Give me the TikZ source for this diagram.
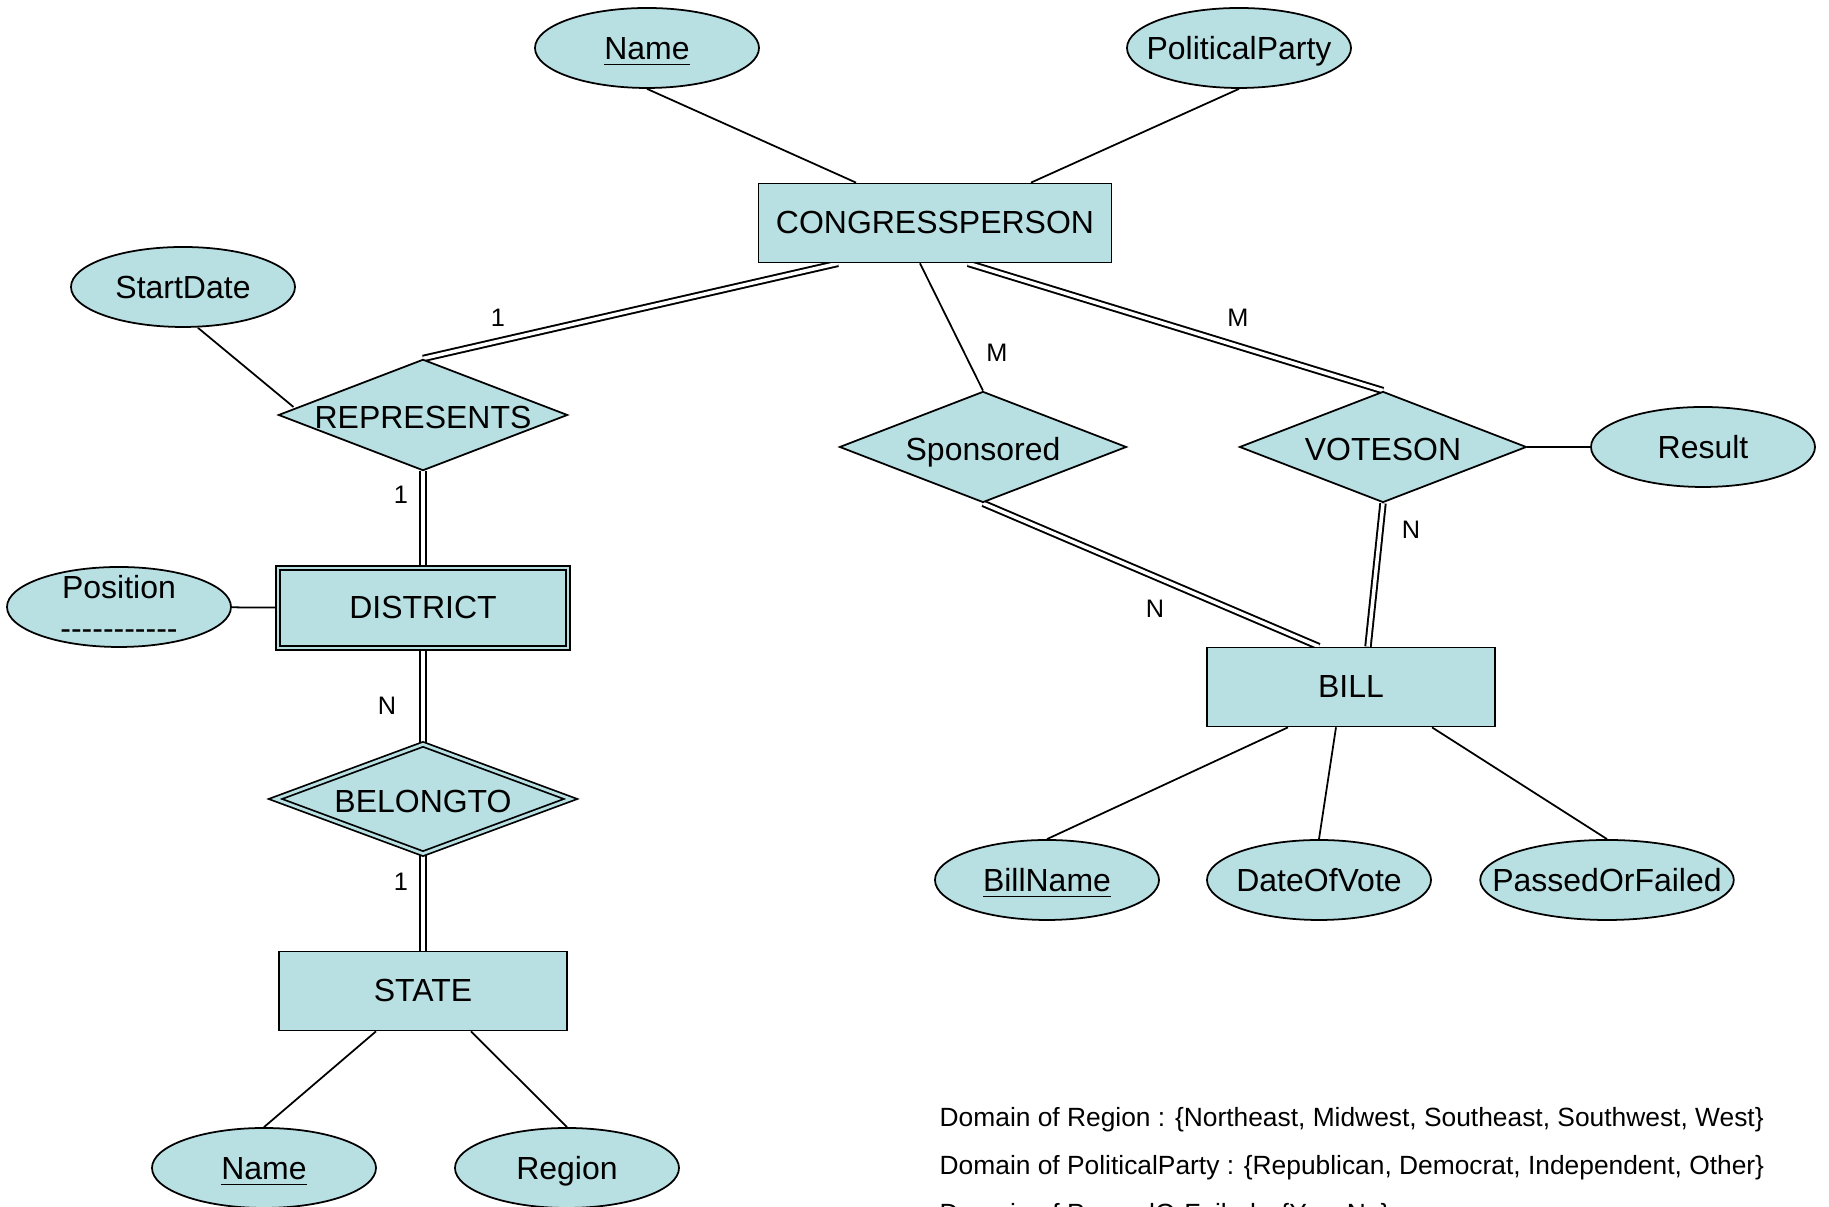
\documentclass[tikz,border=0pt]{standalone}
\usepackage{fontspec}
\setmainfont{Liberation Sans}
\usetikzlibrary{shapes.geometric,backgrounds}

\definecolor{erfill}{RGB}{184,223,226}

\begin{document}
\begin{tikzpicture}[font=\fontsize{9.1}{11.7}\selectfont,
 ent/.style={draw,fill=erfill,line width=.5pt,minimum width=2.88cm,minimum height=.79cm,inner sep=0pt},
 rel/.style={diamond,draw,fill=erfill,line width=.5pt,aspect=2.6,minimum width=2.87cm,minimum height=1.11cm,
   inner sep=0pt,text height=1.5ex,text depth=0pt},
 attr/.style={ellipse,draw,fill=erfill,line width=.5pt,minimum width=2.24cm,minimum height=.8cm,
   inner xsep=-.25cm,inner ysep=-.1cm,text height=1.4ex,text depth=.2ex},
 weak/.style={double=erfill,double distance=.8pt},
 dbl/.style={double,double distance=1pt,line width=.55pt},
 lnk/.style={line width=.5pt},
 card/.style={font=\fontsize{7.2}{8}\selectfont},
 dom/.style={anchor=west,inner sep=0pt,font=\fontsize{7.5}{9}\selectfont}]

\useasboundingbox (0,0) rectangle (18.29,12.07);
% \draw[help lines] (0,0) grid (18,12);

\node[ent,minimum width=3.53cm] (cp) at (9.35,9.84) {CONGRESSPERSON};
\node[attr] (name) at (6.47,11.59) {\underline{Name}};
\node[attr] (party) at (12.39,11.59) {PoliticalParty};

\node[rel] (rep) at (4.23,7.92) {REPRESENTS};
\node[attr] (start) at (1.83,9.20) {StartDate};
\node[rel] (spons) at (9.83,7.60) {Sponsored};
\node[rel] (vote) at (13.83,7.60) {VOTESON};
\node[attr] (result) at (17.03,7.60) {Result};

\node[ent,weak,minimum width=2.90cm,minimum height=.80cm] (dist) at (4.23,5.99) {DISTRICT};
\node[attr,align=center,text height=,text depth=] (pos) at (1.19,6.00) {Position\\-{}-{}-{}-{}-{}-{}-{}-{}-{}-{}-};
\node[rel,weak,minimum width=2.96cm,minimum height=1.10cm] (belong) at (4.23,4.08) {BELONGTO};
\node[ent] (state) at (4.23,2.16) {STATE};
\node[attr] (sname) at (2.64,.39) {\underline{Name}};
\node[attr] (region) at (5.67,.39) {Region};

\node[ent] (bill) at (13.51,5.20) {BILL};
\node[attr] (billname) at (10.47,3.27) {\underline{BillName}};
\node[attr] (date) at (13.19,3.27) {DateOfVote};
\node[attr] (passed) at (16.07,3.27) {PassedOrFailed};

\begin{scope}[on background layer]
 \draw[lnk] (name.south) -- ([xshift=-.79cm]cp.north);
 \draw[lnk] (party.south) -- ([xshift=.96cm]cp.north);
 \draw[dbl] ([xshift=-.97cm]cp.south) -- (rep.north);
 \draw[lnk] ([xshift=-.15cm]cp.south) -- (spons.north);
 \draw[dbl] ([xshift=.33cm]cp.south) -- (vote.north);
 \draw[dbl] (spons.south) -- ([xshift=-.32cm]bill.north);
 \draw[dbl] (vote.south) -- ([xshift=.17cm]bill.north);
 \draw[lnk] (vote) -- (result);
 \draw[lnk] ([xshift=.15cm]start.south) -- ([xshift=.16cm,yshift=.08cm]rep.west);
 \draw[dbl] (rep.south) -- (dist.north);
 \draw[lnk] (pos) -- (dist);
 \draw[dbl] (dist.south) -- (belong.north);
 \draw[dbl] (belong.south) -- (state.north);
 \draw[lnk] ([xshift=-.47cm]state.south) -- (sname.north);
 \draw[lnk] ([xshift=.48cm]state.south) -- (region.north);
 \draw[lnk] ([xshift=-.63cm]bill.south) -- (billname.north);
 \draw[lnk] ([xshift=-.15cm]bill.south) -- (date.north);
 \draw[lnk] ([xshift=.81cm]bill.south) -- (passed.north);
\end{scope}

\foreach \t/\p [count=\i] in {1/{4.98,8.89},1/{4.01,7.12},M/{9.97,8.54},M/{12.38,8.89},
  N/{14.11,6.77},N/{11.55,5.98},N/{3.87,5.01},1/{4.01,3.25}}
 \node[card] (card\i) at (\p) {\t};

\node[dom] (dom1) at (9.39,.87) {Domain of Region : \{Northeast, Midwest, Southeast, Southwest, West\}};
\node[dom] (dom2) at (9.39,.39) {Domain of PoliticalParty : \{Republican, Democrat, Independent, Other\}};
\node[dom] (dom3) at (9.39,-.09) {Domain of PassedOrFailed : \{Yes, No\}};

\end{tikzpicture}
\end{document}
